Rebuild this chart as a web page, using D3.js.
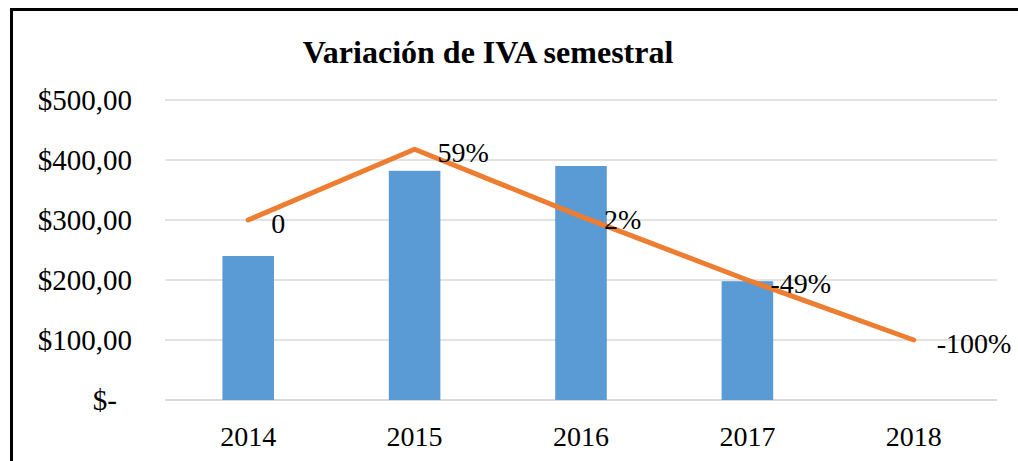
<!DOCTYPE html>
<html>
<head>
<meta charset="utf-8">
<script src="https://cdn.jsdelivr.net/npm/d3@7"></script>
</head>
<body style="margin:0; background:#fff">
<div id="chart"></div>
<script>
// chart data
const years = ['2014', '2015', '2016', '2017', '2018'];
const ivaValues = [240, 382, 390, 198, 0];
const lineValues = [300, 418, 306, 200, 100];
const lineLabels = ['0', '59%', '2%', '-49%', '-100%'];
const yTicks = [0, 100, 200, 300, 400, 500];

const W = 1018, H = 461;
const margin = { top: 100, right: 21, bottom: 61, left: 165 };
const SERIF = "'Liberation Serif', 'Times New Roman', Tinos, Times, serif";

const svg = d3.select('#chart')
  .append('svg')
    .attr('width', W)
    .attr('height', H)
    .attr('font-family', SERIF);

// outer frame (runs off the right and bottom edges)
svg.append('rect')
    .attr('x', 11.5)
    .attr('y', 9.5)
    .attr('width', W + 20)
    .attr('height', H + 20)
    .attr('fill', 'none')
    .attr('stroke', '#000')
    .attr('stroke-width', 3);

svg.append('text')
    .attr('x', 488)
    .attr('y', 63)
    .attr('text-anchor', 'middle')
    .attr('font-family', SERIF)
    .attr('font-size', 32)
    .attr('font-weight', 'bold')
    .text('Variación de IVA semestral');

const x = d3.scaleBand()
    .domain(years)
    .range([margin.left, W - margin.right])
    .paddingInner(0.69)
    .paddingOuter(0.345);

const y = d3.scaleLinear()
    .domain([0, 500])
    .range([H - margin.bottom, margin.top]);

const fmt = d => d === 0 ? '$-' : '$' + d3.format('.2f')(d).replace('.', ',');

// gridlines
svg.append('g')
  .selectAll('line')
  .data(yTicks)
  .enter().append('line')
    .attr('x1', margin.left)
    .attr('x2', W - margin.right)
    .attr('y1', d => y(d))
    .attr('y2', d => y(d))
    .attr('stroke', '#d9d9d9')
    .attr('stroke-width', d => d === 0 ? 2 : 1.5);

// y axis labels
const yAxis = svg.append('g')
    .attr('transform', `translate(${margin.left}, 0)`)
    .call(d3.axisLeft(y).tickValues(yTicks).tickFormat(fmt).tickSize(0).tickPadding(33))
    .attr('font-family', SERIF)
    .attr('font-size', 29);
yAxis.select('.domain').remove();
yAxis.selectAll('text')
    .attr('fill', '#000')
    .attr('dx', d => d === 0 ? -15 : 0);

// x axis labels
const xAxis = svg.append('g')
    .attr('transform', `translate(0, ${y(0)})`)
    .call(d3.axisBottom(x).tickSize(0).tickPadding(26))
    .attr('font-family', SERIF)
    .attr('font-size', 28);
xAxis.select('.domain').remove();
xAxis.selectAll('text').attr('fill', '#000');

// bars
svg.append('g')
  .selectAll('rect')
  .data(years)
  .enter().append('rect')
    .attr('x', d => x(d))
    .attr('width', x.bandwidth())
    .attr('y', (d, i) => y(ivaValues[i]))
    .attr('height', (d, i) => y(0) - y(ivaValues[i]))
    .attr('fill', '#5b9bd5');

// line
const cx = d => x(d) + x.bandwidth() / 2;
const line = d3.line()
    .x(d => cx(d))
    .y((d, i) => y(lineValues[i]));

svg.append('path')
    .datum(years)
    .attr('d', line)
    .attr('fill', 'none')
    .attr('stroke', '#ed7d31')
    .attr('stroke-width', 5)
    .attr('stroke-linecap', 'round')
    .attr('stroke-linejoin', 'round');

// line labels
svg.append('g')
    .attr('font-family', SERIF)
    .attr('font-size', 28)
  .selectAll('text')
  .data(years)
  .enter().append('text')
    .attr('x', d => cx(d) + 23)
    .attr('y', (d, i) => y(lineValues[i]) + 3)
    .attr('dy', '0.35em')
    .text((d, i) => lineLabels[i]);
</script>
</body>
</html>
